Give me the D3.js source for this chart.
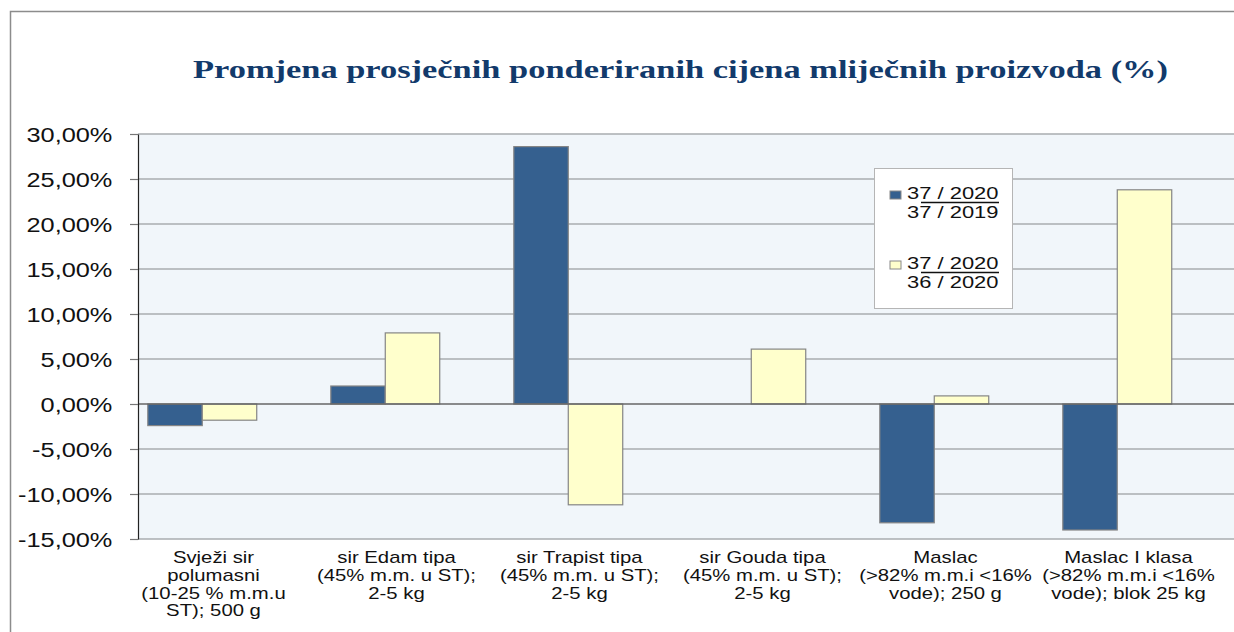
<!DOCTYPE html>
<html lang="hr">
<head>
<meta charset="utf-8">
<title>Promjena prosječnih ponderiranih cijena mliječnih proizvoda</title>
<script src="https://cdn.jsdelivr.net/npm/d3@7"></script>
<style>
  html, body { margin: 0; padding: 0; background: #fff; overflow: hidden; }
  svg { display: block; overflow: hidden; }
  svg text { font-family: "Liberation Sans", Arial, sans-serif; fill: #111; }
</style>
</head>
<body>
<svg id="chart" width="1234" height="632"></svg>
<script>
// chart data
var categories = [
  ["Svježi sir", "polumasni", "(10-25 % m.m.u", "ST); 500 g"],
  ["sir Edam tipa", "(45% m.m. u ST);", "2-5 kg"],
  ["sir Trapist tipa", "(45% m.m. u ST);", "2-5 kg"],
  ["sir Gouda tipa", "(45% m.m. u ST);", "2-5 kg"],
  ["Maslac", "(>82% m.m.i <16%", "vode); 250 g"],
  ["Maslac I klasa", "(>82% m.m.i <16%", "vode); blok 25 kg"]
];
var series1 = [-2.4, 2.0, 28.6, 0, -13.2, -14.0];   // 37/2020 vs 37/2019
var series2 = [-1.8, 7.9, -11.2, 6.1, 0.9, 23.8];   // 37/2020 vs 36/2020
var legendLabels = [["37 / 2020", "37 / 2019"], ["37 / 2020", "36 / 2020"]];
var yTicks = [-15, -10, -5, 0, 5, 10, 15, 20, 25, 30];
var title = "Promjena prosječnih ponderiranih cijena mliječnih proizvoda (%)";

var colors = ["#35608f", "#ffffcc"];
var sx = 1.27; // text in the original looks stretched sideways

var svg = d3.select("#chart");

// outer frame (only left and top edges are in view)
svg.append("path")
    .attr("d", "M10.5,640V11.5H1240")
    .attr("fill", "none").attr("stroke", "#8c8c8c").attr("stroke-width", 1.5);

// title
svg.append("text")
    .attr("x", 193).attr("y", 78)
    .attr("textLength", 975)
    .attr("lengthAdjust", "spacingAndGlyphs")
    .style("font-family", "'Liberation Serif', 'Times New Roman', serif")
    .style("font-weight", "bold")
    .style("font-size", "25px")
    .style("fill", "#123a6b")
    .text(title);

var plot = {left: 138, right: 1236, top: 134, bottom: 539};

var y = d3.scaleLinear().domain([-15, 30]).range([plot.bottom, plot.top]);
var x0 = d3.scaleBand().domain(d3.range(categories.length)).range([plot.left, plot.right]);
var x1 = d3.scaleBand().domain(["s1", "s2", "s3"]).range([0, x0.bandwidth()]).paddingOuter(0.18);

// plot background
svg.append("rect")
    .attr("x", plot.left).attr("y", plot.top)
    .attr("width", plot.right - plot.left).attr("height", plot.bottom - plot.top)
    .attr("fill", "#f1f6fa");

// grid lines
svg.append("g").selectAll("line")
    .data(yTicks.filter(function(d) { return d !== 0; }))
    .enter().append("line")
    .attr("x1", plot.left).attr("x2", plot.right)
    .attr("y1", function(d) { return y(d); })
    .attr("y2", function(d) { return y(d); })
    .attr("stroke", "#a9acaf").attr("stroke-width", 1.5);

// bars
var rows = categories.map(function(c, i) {
  return [{key: "s1", v: series1[i], c: colors[0]}, {key: "s2", v: series2[i], c: colors[1]}];
});

svg.append("g").selectAll("g")
    .data(rows)
    .enter().append("g")
    .attr("transform", function(d, i) { return "translate(" + x0(i) + ",0)"; })
    .selectAll("rect")
    .data(function(d) { return d.filter(function(b) { return b.v !== 0; }); })
    .enter().append("rect")
    .attr("x", function(d) { return x1(d.key); })
    .attr("width", x1.bandwidth())
    .attr("y", function(d) { return y(Math.max(0, d.v)); })
    .attr("height", function(d) { return Math.abs(y(d.v) - y(0)); })
    .attr("fill", function(d) { return d.c; })
    .attr("stroke", "#858585").attr("stroke-width", 1.2);

// zero line
svg.append("line")
    .attr("x1", plot.left).attr("x2", plot.right)
    .attr("y1", y(0)).attr("y2", y(0))
    .attr("stroke", "#666").attr("stroke-width", 1.5);

// y axis
var yAxis = svg.append("g")
    .attr("transform", "translate(" + plot.left + ",0)")
    .call(d3.axisLeft(y).tickValues(yTicks).tickSize(8).tickSizeOuter(0)
      .tickFormat(function(d) { return d.toFixed(2).replace(".", ",") + "%"; }));
yAxis.select(".domain").attr("stroke", "#222").attr("stroke-width", 1.2);
yAxis.selectAll(".tick line").attr("stroke", "#777").attr("stroke-width", 1.2);
yAxis.selectAll(".tick text")
    .attr("x", -25 / sx).attr("dy", "0.36em")
    .attr("transform", "scale(1.3,1)")
    .style("font-size", "19.5px").style("fill", "#111");

// category labels
var cat = svg.append("g").selectAll("g")
    .data(categories)
    .enter().append("g")
    .attr("transform", function(d, i) { return "translate(" + (x0(i) + x0.bandwidth() / 2 - 16) + ",563) scale(" + sx + ",1)"; });
cat.selectAll("text")
    .data(function(d) { return d; })
    .enter().append("text")
    .attr("text-anchor", "middle")
    .attr("y", function(d, j) { return j * 17.8; })
    .style("font-size", "16px")
    .text(function(d) { return d; });

// legend
var lg = svg.append("g");
lg.append("rect")
    .attr("x", 874.5).attr("y", 168.5).attr("width", 138).attr("height", 140)
    .attr("fill", "#fff").attr("stroke", "#b5b5b5").attr("stroke-width", 1);

var item = lg.selectAll("g.item")
    .data(legendLabels)
    .enter().append("g")
    .attr("class", "item")
    .attr("transform", function(d, i) { return "translate(0," + (i * 70) + ")"; });
item.append("rect")
    .attr("x", 890).attr("y", 191).attr("width", 11).attr("height", 8)
    .attr("fill", function(d, i) { return colors[i]; })
    .attr("stroke", "#888").attr("stroke-width", 1);
item.append("text")
    .attr("transform", "translate(907,199) scale(1.33,1)")
    .style("font-size", "16.5px")
    .text(function(d) { return d[0]; });
item.append("line")
    .attr("x1", 921).attr("x2", 999).attr("y1", 202.5).attr("y2", 202.5)
    .attr("stroke", "#111").attr("stroke-width", 1.3);
item.append("text")
    .attr("transform", "translate(907,218) scale(1.33,1)")
    .style("font-size", "16.5px")
    .text(function(d) { return d[1]; });
</script>
</body>
</html>
